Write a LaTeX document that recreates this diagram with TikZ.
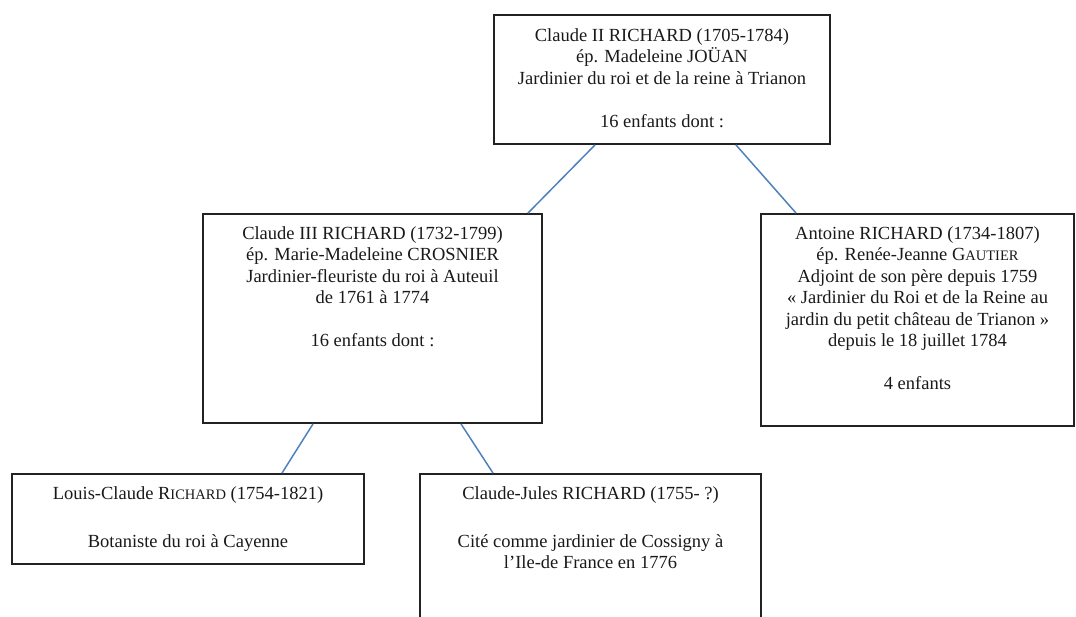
\documentclass[tikz,border=0pt]{standalone}
\usepackage{fontspec}
\setmainfont{Liberation Serif}
\definecolor{linkblue}{RGB}{79,129,189}
\definecolor{boxgray}{RGB}{34,34,34}
\newcommand{\petitcap}[2]{#1{\fontsize{14.5}{21.5}\selectfont #2}}

\begin{document}
\begin{tikzpicture}[x=1pt,y=-1pt,font=\fontsize{18.5}{21.5}\selectfont,
  box/.style={draw=boxgray,line width=1.9pt,inner sep=0pt},
  txt/.style={anchor=north,align=center,inner sep=0pt,text=black!90},
  link/.style={linkblue,line width=1.5pt}]
\clip (0,0) rectangle (1076,617);
\node[box,minimum width=336pt,minimum height=129pt] (claudeII) at (662,79.5) {};
\node[box,minimum width=339pt,minimum height=209pt] (claudeIII) at (372.5,318.5) {};
\node[box,minimum width=313pt,minimum height=212pt] (antoine) at (917.5,320) {};
\node[box,minimum width=352pt,minimum height=90pt] (louis) at (188,519) {};
\node[box,minimum width=341pt,minimum height=186pt] (jules) at (590.5,567) {};

\node[txt] (claudeIIt) at ([yshift=-14pt]claudeII.north)
  {Claude II RICHARD (1705-1784)\\ ép. Madeleine JOÜAN\\
   Jardinier du roi et de la reine à Trianon\\[21.5pt] 16 enfants dont :};
\node[txt] (claudeIIIt) at ([yshift=-13pt]claudeIII.north)
  {Claude III RICHARD (1732-1799)\\ ép. Marie-Madeleine CROSNIER\\
   Jardinier-fleuriste du roi à Auteuil\\ de 1761 à 1774\\[21.5pt] 16 enfants dont :};
\node[txt] (antoinet) at ([yshift=-13pt]antoine.north)
  {Antoine RICHARD (1734-1807)\\ ép. Renée-Jeanne \petitcap{G}{AUTIER}\\
   Adjoint de son père depuis 1759\\ « Jardinier du Roi et de la Reine au\\
   jardin du petit château de Trianon »\\ depuis le 18 juillet 1784\\[21.5pt] 4 enfants};
\node[txt] (louist) at ([yshift=-13pt]louis.north)
  {Louis-Claude \petitcap{R}{ICHARD} (1754-1821)\\[26.5pt] Botaniste du roi à Cayenne};
\node[txt] (julest) at ([yshift=-13pt]jules.north)
  {Claude-Jules RICHARD (1755- ?)\\[26.5pt] Cité comme jardinier de Cossigny à\\
   l’Ile-de France en 1776};

\draw[link] ([xshift=-67pt]claudeII.south) -- ([xshift=155.5pt]claudeIII.north);
\draw[link] ([xshift=74pt]claudeII.south) -- ([xshift=-121.5pt]antoine.north);
\draw[link] ([xshift=-59.5pt]claudeIII.south) -- ([xshift=94pt]louis.north);
\draw[link] ([xshift=88.5pt]claudeIII.south) -- ([xshift=-97.5pt]jules.north);
\end{tikzpicture}
\end{document}
